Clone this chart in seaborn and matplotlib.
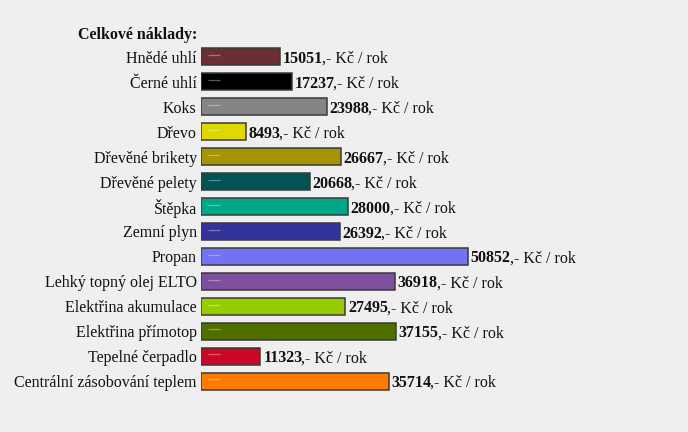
import matplotlib
matplotlib.use("Agg")
import matplotlib.pyplot as plt
import seaborn as sns
import pandas as pd

categories = ["Hnědé uhlí", "Černé uhlí", "Koks", "Dřevo", "Dřevěné brikety",
              "Dřevěné pelety", "Štěpka", "Zemní plyn", "Propan",
              "Lehký topný olej ELTO", "Elektřina akumulace", "Elektřina přímotop",
              "Tepelné čerpadlo", "Centrální zásobování teplem"]
values = [15051, 17237, 23988, 8493, 26667, 20668, 28000, 26392, 50852,
          36918, 27495, 37155, 11323, 35714]
colors = ["#6b2f33", "#000000", "#858585", "#dcd800", "#a89400", "#005458",
          "#00a88a", "#333399", "#7272f2", "#7d4f9d", "#99cc00", "#4f6e00",
          "#cc0725", "#ff7b00"]
title = "Celkové náklady:"
suffix = ",- Kč / rok"

df = pd.DataFrame({"kategorie": categories, "hodnota": values})
palette = dict(zip(categories, colors))

sns.set_style("white")
plt.rcParams["font.family"] = ["Liberation Serif", "DejaVu Serif"]

W, H = 688, 432
fig = plt.figure(figsize=(W / 100, H / 100), dpi=100)
fig.patch.set_facecolor("#efefef")

left_px, right_px = 201, 688
top_px, bot_px = 44.5, 393.5
ax = fig.add_axes([left_px / W, 1 - bot_px / H, (right_px - left_px) / W, (bot_px - top_px) / H])
ax.set_facecolor("none")

sns.barplot(data=df, x="hodnota", y="kategorie", hue="kategorie", palette=palette,
            orient="h", legend=False, ax=ax, width=0.68, saturation=1,
            edgecolor="#3a3a3a", linewidth=1.1)

scale = 267 / 50852
ax.set_xlim(0, (right_px - left_px) / scale)
ax.set_ylim(len(categories) - 0.5, -0.5)
for s in ax.spines.values():
    s.set_visible(False)
ax.set_xticks([])
ax.set_xlabel("")
ax.set_ylabel("")
ax.tick_params(axis="y", length=0, pad=3, labelsize=11.5)
for lbl in ax.get_yticklabels():
    lbl.set_color("#111111")

# small highlight dash near the left end of each bar
for p in ax.patches:
    y = p.get_y() + p.get_height() * 0.4
    ax.plot([1300, 3600], [y, y], color=(1, 1, 1, 0.35), lw=0.9,
            solid_capstyle="butt")

for i, v in enumerate(values):
    t1 = ax.annotate(f"{v}", xy=(v, i), xytext=(2, -1.5), textcoords="offset points",
                     va="center", ha="left", fontsize=11.5, fontweight="bold", color="#111111")
    ax.annotate(suffix, xy=(1, 0), xycoords=t1, xytext=(-0.8, 0), textcoords="offset points",
                va="bottom", ha="left", fontsize=11.5, color="#111111")

fig.text(78 / W, 1 - 35 / H, title, fontsize=11.5, fontweight="bold", va="center",
         ha="left", color="#111111")

fig.savefig("out.png", dpi=100, facecolor=fig.get_facecolor())
